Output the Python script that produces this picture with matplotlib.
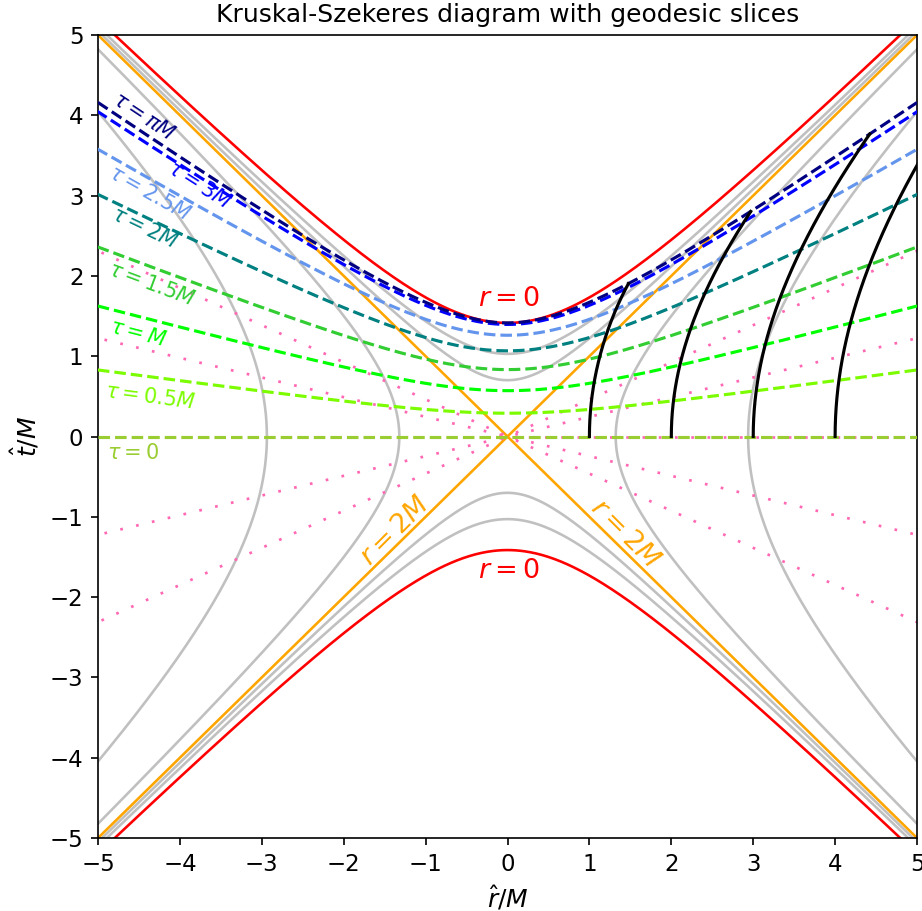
import numpy as np
import matplotlib
matplotlib.use('Agg')
import matplotlib.pyplot as plt

# values
taus = [0, 0.5, 1, 1.5, 2, 2.5, 3, np.pi]
tau_labels = ['$\\tau = 0$', '$\\tau = 0.5M$', '$\\tau = M$', '$\\tau = 1.5M$',
              '$\\tau = 2M$', '$\\tau = 2.5M$', '$\\tau = 3M$', '$\\tau = \\pi M$']
tau_colors = ['yellowgreen', 'lawngreen', 'lime', 'limegreen',
              'teal', 'cornflowerblue', 'blue', 'navy']
# label centre (x, t) for each slice label
tau_label_pos = [(-4.57, -0.2), (-4.37, 0.49), (-4.51, 1.29), (-4.35, 1.89),
                 (-4.43, 2.59), (-4.37, 3.03), (-3.77, 3.13), (-4.44, 3.98)]
geodesic_starts = [1, 2, 3, 4]      # r_hat/M where observers start at rest
r_inside = [1.5, 1.8]               # constant r curves, r < 2M
r_outside = [2.5, 3.5]              # constant r curves, r > 2M
t_lines = [-2, -1, 0, 1, 2]         # Schwarzschild t/M

M = 1.0
plt.rcParams['font.family'] = ['DejaVu Sans']
plt.rcParams['mathtext.fontset'] = 'dejavusans'


def kruskal_c(r):
    # T^2 - X^2 = 2 (1 - r/2M) exp(r/2M)
    return 2 * (1 - r / (2 * M)) * np.exp(r / (2 * M))


def R_from_X0(x0):
    Rg = 2 * M + 10 * np.linspace(0, 1, 200001) ** 2
    Xg = np.sqrt(-kruskal_c(Rg))
    return np.interp(x0, Xg, Rg)


eta_grid = np.linspace(0, np.pi, 40001)
g_grid = eta_grid + np.sin(eta_grid)


def eta_from_tau(tau, R):
    return np.interp(tau / (R / 2) ** 1.5, g_grid, eta_grid)


def geodesic_point(R, eta):
    a = np.sqrt(R / (2 * M) - 1)
    r = R / 2 * (1 + np.cos(eta))
    c, s = np.cos(eta / 2), np.sin(eta / 2)
    E = np.exp(a / 2 * (eta + R / (4 * M) * (eta + np.sin(eta))))
    pre = np.sqrt(2) * np.exp(r / (4 * M))
    V = pre * (a * c + s) * E
    U = pre * (a * c - s) / E
    return (U + V) / 2, (V - U) / 2


fig = plt.figure(figsize=(922 / 150, 911 / 150), dpi=150)
ax = fig.add_axes([0.1063, 0.0801, 0.8883, 0.8815])
ax.set_xlim(-5, 5)
ax.set_ylim(-5, 5)

# constant r curves
xx = np.linspace(-5.5, 5.5, 600)
for r in r_inside:
    c = kruskal_c(r)
    ax.plot(xx, np.sqrt(xx ** 2 + c), color='silver', lw=1.25, zorder=1)
    ax.plot(xx, -np.sqrt(xx ** 2 + c), color='silver', lw=1.25, zorder=1)
for r in r_outside:
    c = -kruskal_c(r)
    ax.plot(np.sqrt(xx ** 2 + c), xx, color='silver', lw=1.25, zorder=1)
    ax.plot(-np.sqrt(xx ** 2 + c), xx, color='silver', lw=1.25, zorder=1)

c0 = kruskal_c(0)
ax.plot(xx, np.sqrt(xx ** 2 + c0), color='red', lw=1.25, zorder=2)
ax.plot(xx, -np.sqrt(xx ** 2 + c0), color='red', lw=1.25, zorder=2)
ax.plot(xx, xx, color='orange', lw=1.25, zorder=2)
ax.plot(xx, -xx, color='orange', lw=1.25, zorder=2)

# constant Schwarzschild t lines
for t in t_lines:
    ax.plot(xx, xx * np.tanh(t / (4 * M)), color='hotpink', lw=1.3,
            ls=(0, (1, 5)), zorder=2.5)

# geodesic slices
X0 = np.linspace(0, 9, 900)
R_all = R_from_X0(X0)
curves = []
for tau, col in zip(taus, tau_colors):
    eta = eta_from_tau(tau, R_all)
    X, T = geodesic_point(R_all, eta)
    Xf = np.concatenate([-X[::-1], X[1:]])
    Tf = np.concatenate([T[::-1], T[1:]])
    ax.plot(Xf, Tf, color=col, lw=1.5, ls='--', zorder=3)
    curves.append((Xf, Tf))

# observers falling from rest
for x0 in geodesic_starts:
    R = R_from_X0(x0)
    eta_end = eta_from_tau(np.pi * M, R)
    eta = np.linspace(0, eta_end, 300)
    X, T = geodesic_point(R, eta)
    ax.plot(X, T, color='black', lw=1.5, zorder=4)

# slice labels, rotated along their curve
for (Xf, Tf), lab, col, (lx, lt) in zip(curves, tau_labels, tau_colors, tau_label_pos):
    i = np.argmin(np.abs(Xf - lx))
    p1 = ax.transData.transform((Xf[i - 3], Tf[i - 3]))
    p2 = ax.transData.transform((Xf[i + 3], Tf[i + 3]))
    ang = np.degrees(np.arctan2(p2[1] - p1[1], p2[0] - p1[0]))
    ax.text(lx, lt, lab, color=col, fontsize=10, rotation=ang,
            rotation_mode='anchor', ha='center', va='center', zorder=5)

ax.text(0.02, 1.71, '$r = 0$', color='red', fontsize=13, ha='center', va='center')
ax.text(0.02, -1.68, '$r = 0$', color='red', fontsize=13, ha='center', va='center')
ax.text(-1.37, -1.18, '$r = 2M$', color='orange', fontsize=13, rotation=45,
        rotation_mode='anchor', ha='center', va='center')
ax.text(1.43, -1.22, '$r = 2M$', color='orange', fontsize=13, rotation=-45,
        rotation_mode='anchor', ha='center', va='center')

ax.set_xticks(range(-5, 6))
ax.set_yticks(range(-5, 6))
ax.tick_params(labelsize=11)
ax.set_xlabel('$\\hat{r}/M$', fontsize=12)
ax.set_ylabel('$\\hat{t}/M$', fontsize=12)
ax.set_title('Kruskal-Szekeres diagram with geodesic slices', fontsize=12)

fig.savefig('out.png', dpi=150)
